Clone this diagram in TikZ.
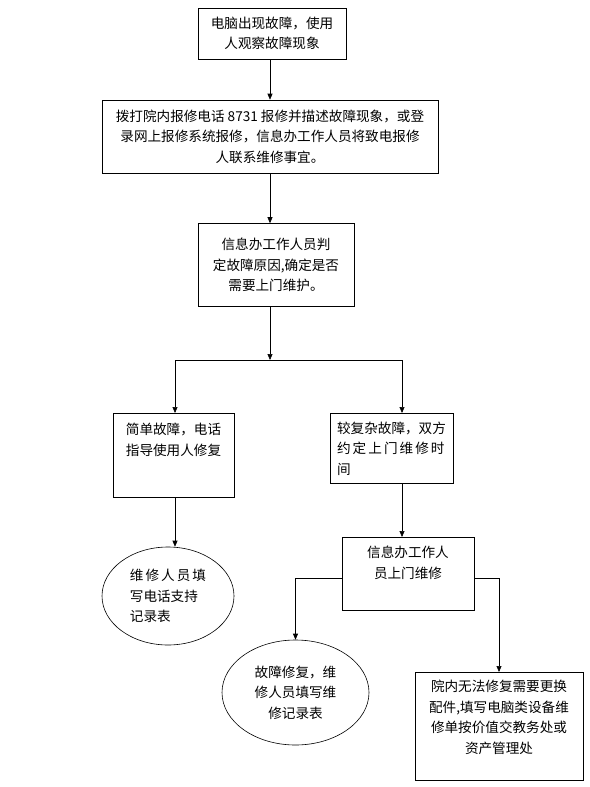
\documentclass[tikz,border=0pt]{standalone}
\usepackage{fontspec}
\newfontfamily\cjkfont{Noto Sans CJK SC}
\newfontfamily\cjkwide[LetterSpace=15]{Noto Sans CJK SC}
\usepackage{tikz}
\usetikzlibrary{arrows.meta,positioning,shapes.geometric}

\begin{document}
\begin{tikzpicture}[
    x=1pt, y=-1pt,
    font=\cjkfont\fontsize{13.6}{20.5}\selectfont,
    box/.style={draw, align=center, inner xsep=4pt, inner ysep=9pt},
    oval/.style={draw, ellipse, inner sep=0pt},
    >={Triangle[length=6pt,width=5pt]}, line width=0.6pt,
    ]
\useasboundingbox (0,0) rectangle (589,787);

\node[box, minimum width=148pt, minimum height=51pt] (fault) at (272,33.5)
     {电脑出现故障，使用\\人观察故障现象};
\node[box, minimum width=336pt, minimum height=73pt] (report) at (270,136.5)
     {拨打院内报修电话 8731 报修并描述故障现象，或登\\录网上报修系统报修，信息办工作人员将致电报修\\人联系维修事宜。};
\node[box, minimum width=156pt, minimum height=83pt] (judge) at (276,265)
     {信息办工作人员判\\定故障原因,确定是否\\需要上门维护。};

% two branches below the split line
\node[box, align=left, anchor=north, minimum width=121pt, inner ysep=10pt,
      text depth=32pt] (simple) at (173.5,413)
     {简单故障，电话\\指导使用人修复};
\node[box, align=left, anchor=north, minimum width=123pt, minimum height=70pt,
      inner ysep=6pt] (complex) at (391.5,413)
     {较复杂故障，双方\\{\cjkwide 约定上门维修时}\\间};

\node[oval, align=left, minimum width=132pt, minimum height=98pt] (phonelog) at (168,596)
     {\cjkwide 维修人员填\\写电话支持\\记录表};
\node[box, anchor=north, minimum width=132pt, text depth=23pt] (onsite) at (408,537)
     {信息办工作人\\员上门维修};

\node[oval, align=center, minimum width=147pt, minimum height=105pt] (fixed) at (295.5,692.5)
     {故障修复，维\\修人员填写维\\修记录表};
\node[box, anchor=north, minimum width=168pt, inner ysep=8pt,
      text depth=19pt] (replace) at (499,672)
     {院内无法修复需要更换\\配件,填写电脑类设备维\\修单按价值交教务处或\\资产管理处};

\coordinate (split) at (270,360);
\coordinate (lsplit) at (175,360);
\coordinate (rsplit) at (402,360);

\draw[->] (report.north |- fault.south) -- (report.north);
\draw[->] (report.south) -- (report.south |- judge.north);
\draw[->] (split |- judge.south) -- (split);
\draw (lsplit) -- (rsplit);
\draw[->] (lsplit) -- (lsplit |- simple.north);
\draw[->] (rsplit) -- (rsplit |- complex.north);
\draw[->] (lsplit |- simple.south) -- (lsplit |- phonelog.north);
\draw[->] (rsplit |- complex.south) -- (rsplit |- onsite.north);
\draw[->] ([yshift=-4pt]onsite.west) -| (fixed.north);
\draw[->] ([yshift=-4pt]onsite.east) -| (replace.north);
\end{tikzpicture}
\end{document}
